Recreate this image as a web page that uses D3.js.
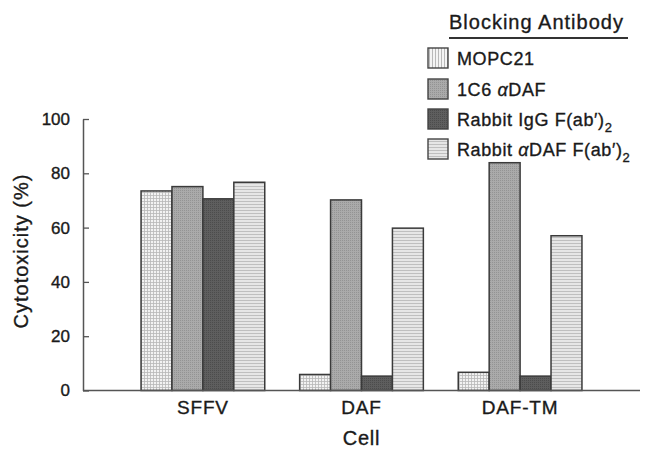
<!DOCTYPE html>
<html>
<head>
<meta charset="utf-8">
<script src="https://cdn.jsdelivr.net/npm/d3@7"></script>
<style>
  body { margin: 0; background: #fff; }
  svg { display: block; font-family: "Liberation Sans", Arial, sans-serif; }
  text { fill: #1a1a1a; stroke: #1a1a1a; stroke-width: 0.35px; }
</style>
</head>
<body>
<div id="chart"></div>
<script>
// data
var cells = ["SFFV", "DAF", "DAF-TM"];
var antibodies = ["MOPC21", "1C6 aDAF", "Rabbit IgG", "Rabbit aDAF"];
var mopc21 = [73.5, 5.9, 6.7];
var daf1C6 = [75.1, 70.2, 83.9];
var rabbitIgG = [70.6, 5.3, 5.3];
var rabbitDAF = [76.7, 59.8, 57.0];
var yTicks = [0, 20, 40, 60, 80, 100];

var seriesValues = [mopc21, daf1C6, rabbitIgG, rabbitDAF];
var fills = ["url(#patGrid)", "url(#patDots)", "url(#patDark)", "url(#patHoriz)"];
var legendFills = ["url(#patVert)", "url(#patDots)", "url(#patDark)", "url(#patHoriz)"];

var width = 646, height = 450;
var margin = {left: 83, right: 8, top: 119, bottom: 59};

var svg = d3.select("#chart").append("svg")
	.attr("width", width)
	.attr("height", height);

// fill textures
var defs = svg.append("defs");
function addPattern(id, w, h, bg, draw) {
	var p = defs.append("pattern")
		.attr("id", id)
		.attr("patternUnits", "userSpaceOnUse")
		.attr("width", w).attr("height", h);
	p.append("rect").attr("width", w).attr("height", h).attr("fill", bg);
	draw(p);
}
addPattern("patGrid", 3, 3, "#f2f2f2", function(p) {
	p.append("path").attr("d", "M0,0.5H3M0.5,0V3").attr("stroke", "#b8b8b8").attr("stroke-width", 0.8);
});
addPattern("patVert", 3, 3, "#f4f4f4", function(p) {
	p.append("path").attr("d", "M0.5,0V3").attr("stroke", "#aaa").attr("stroke-width", 0.8);
});
addPattern("patDots", 2, 2, "#aaaaaa", function(p) {
	p.append("rect").attr("width", 1).attr("height", 1).attr("fill", "#939393");
});
addPattern("patDark", 2, 2, "#5e5e5e", function(p) {
	p.append("rect").attr("width", 1).attr("height", 1).attr("fill", "#4c4c4c");
});
addPattern("patHoriz", 3, 3, "#e6e6e6", function(p) {
	p.append("path").attr("d", "M0,0.5H3").attr("stroke", "#b5b5b5").attr("stroke-width", 0.8);
});

var x = d3.scaleBand()
	.domain(cells)
	.range([margin.left, 640])
	.paddingInner(0.22)
	.paddingOuter(0.366);

var xSub = d3.scaleBand()
	.domain(antibodies)
	.range([0, x.bandwidth()]);

var y = d3.scaleLinear()
	.domain([0, 100])
	.range([height - margin.bottom - 0.5, margin.top]);

// bars
antibodies.forEach(function(ab, i) {
	svg.append("g").selectAll("rect")
		.data(seriesValues[i])
		.enter()
		.append("rect")
			.attr("x", function(d, j) { return x(cells[j]) + xSub(ab); })
			.attr("y", function(d) { return y(d); })
			.attr("width", xSub.bandwidth())
			.attr("height", function(d) { return y(0) - y(d); })
			.attr("fill", fills[i])
			.attr("stroke", "#3a3a3a")
			.attr("stroke-width", 1.5);
});

// y axis, ticks pointing inward
var yAxis = svg.append("g")
	.attr("transform", "translate(" + margin.left + ",0)")
	.call(d3.axisLeft(y).tickValues(yTicks).tickSizeInner(-6).tickSizeOuter(0).tickPadding(13));
yAxis.select(".domain").attr("stroke", "#555").attr("stroke-width", 1.5);
yAxis.selectAll(".tick line").attr("stroke", "#555").attr("stroke-width", 1.3);
yAxis.selectAll(".tick text").attr("font-size", 17).attr("fill", null)
	.attr("font-family", "Liberation Sans, Arial, sans-serif");

// x axis baseline and labels
var xAxis = svg.append("g")
	.attr("transform", "translate(0," + y(0) + ")")
	.call(d3.axisBottom(x).tickSize(0).tickPadding(10));
xAxis.select(".domain").attr("stroke", "#555").attr("stroke-width", 1.5)
	.attr("d", "M" + margin.left + ",0H640");
xAxis.selectAll(".tick text").attr("font-size", 19).attr("fill", null)
	.attr("letter-spacing", 0.8)
	.attr("font-family", "Liberation Sans, Arial, sans-serif");

// axis titles
svg.append("text")
	.attr("transform", "translate(28," + 251 + ") rotate(-90)")
	.attr("text-anchor", "middle")
	.attr("font-size", 20).attr("letter-spacing", 1)
	.text("Cytotoxicity (%)");

svg.append("text")
	.attr("x", x("DAF") + x.bandwidth() / 2)
	.attr("y", 445)
	.attr("text-anchor", "middle")
	.attr("font-size", 20).attr("letter-spacing", 0.8)
	.text("Cell");

// legend
var legend = svg.append("g");
legend.append("text")
	.attr("x", 449).attr("y", 29)
	.attr("font-size", 20).attr("letter-spacing", 1)
	.text("Blocking Antibody");
legend.append("line")
	.attr("x1", 449).attr("x2", 628)
	.attr("y1", 38).attr("y2", 38)
	.attr("stroke", "#333").attr("stroke-width", 2);

var legendY = [48, 79, 109, 139];
antibodies.forEach(function(ab, i) {
	legend.append("rect")
		.attr("x", 428).attr("y", legendY[i])
		.attr("width", 20).attr("height", 20)
		.attr("fill", legendFills[i])
		.attr("stroke", "#444").attr("stroke-width", 1.4);
	var t = legend.append("text")
		.attr("x", 457).attr("y", legendY[i] + 17)
		.attr("font-size", 18).attr("letter-spacing", 0.6);
	if (i == 0) {
		t.text("MOPC21");
	} else if (i == 1) {
		t.append("tspan").text("1C6  ");
		t.append("tspan").attr("font-style", "italic").text("\u03b1");
		t.append("tspan").text("DAF");
	} else if (i == 2) {
		t.append("tspan").text("Rabbit IgG F(ab\u2032)");
		t.append("tspan").attr("font-size", 13).attr("dy", 6).text("2");
	} else {
		t.append("tspan").text("Rabbit  ");
		t.append("tspan").attr("font-style", "italic").text("\u03b1");
		t.append("tspan").text("DAF F(ab\u2032)");
		t.append("tspan").attr("font-size", 13).attr("dy", 6).text("2");
	}
});
</script>
</body>
</html>
